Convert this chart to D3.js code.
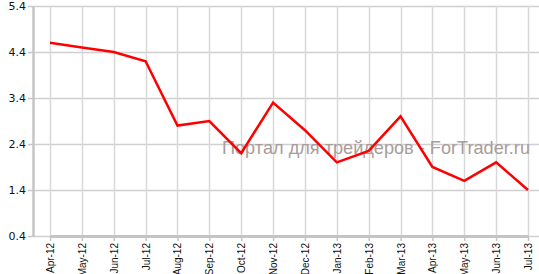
<!DOCTYPE html>
<html>
<head>
<meta charset="utf-8">
<script src="https://cdn.jsdelivr.net/npm/d3@7"></script>
<style>
  body { margin: 0; background: #fff; }
</style>
</head>
<body>
<div id="chart"></div>
<script>
// data
var months = ["Apr-12", "May-12", "Jun-12", "Jul-12", "Aug-12", "Sep-12", "Oct-12", "Nov-12",
              "Dec-12", "Jan-13", "Feb-13", "Mar-13", "Apr-13", "May-13", "Jun-13", "Jul-13"];
var values = [4.6, 4.5, 4.4, 4.2, 2.8, 2.9, 2.2, 3.3,
              2.7, 2.0, 2.25, 3.0, 1.9, 1.6, 2.0, 1.4];
var yTicks = [0.4, 1.4, 2.4, 3.4, 4.4, 5.4];
var watermark = "Портал для трейдеров - ForTrader.ru";

var margin = {top: 6, right: 0, bottom: 38, left: 33},
    width = 539 - margin.left - margin.right,
    height = 274 - margin.top - margin.bottom;

var svg = d3.select("#chart")
    .append("svg")
    .attr("width", width + margin.left + margin.right)
    .attr("height", height + margin.top + margin.bottom)
    .append("g")
    .attr("transform", "translate(" + margin.left + "," + margin.top + ")");

var x = d3.scalePoint()
    .domain(months)
    .range([17, 495]);

var y = d3.scaleLinear()
    .domain([0.4, 5.4])
    .range([height, 0]);

// horizontal grid
svg.append("g")
    .selectAll("line")
    .data(yTicks)
    .enter()
    .append("line")
    .attr("x1", 0)
    .attr("x2", width)
    .attr("y1", function(d) { return Math.round(y(d)) + 0.5 })
    .attr("y2", function(d) { return Math.round(y(d)) + 0.5 })
    .attr("stroke", "#d0d0d0")
    .attr("stroke-width", 1.5);

// vertical grid
svg.append("g")
    .selectAll("line")
    .data(months)
    .enter()
    .append("line")
    .attr("x1", function(d) { return Math.round(x(d)) + 0.5 })
    .attr("x2", function(d) { return Math.round(x(d)) + 0.5 })
    .attr("y1", 0)
    .attr("y2", height)
    .attr("stroke", "#d8d8d8")
    .attr("stroke-width", 1.5);

// Y axis
var yAxis = svg.append("g")
    .call(d3.axisLeft(y).tickValues(yTicks).tickFormat(d3.format(".1f")).tickSize(5).tickSizeOuter(0));
yAxis.select(".domain").attr("stroke", "#c4c4c4").attr("stroke-width", 2.5);
yAxis.selectAll(".tick line").attr("stroke", "#c4c4c4").attr("stroke-width", 1.5);
yAxis.selectAll("text")
    .attr("x", -7)
    .attr("fill", "#111")
    .style("font-family", "DejaVu Sans, Verdana, sans-serif")
    .style("font-size", "11px");

// X axis
var xAxis = svg.append("g")
    .attr("transform", "translate(0," + height + ")")
    .call(d3.axisBottom(x).tickSize(5).tickSizeOuter(0));
xAxis.select(".domain").attr("stroke", "#c4c4c4").attr("stroke-width", 3);
xAxis.selectAll(".tick line").attr("stroke", "#c4c4c4").attr("stroke-width", 1.5);
xAxis.selectAll("text")
    .attr("transform", "rotate(-90)")
    .attr("x", -7)
    .attr("y", 0)
    .attr("dy", "0.35em")
    .style("text-anchor", "end")
    .attr("fill", "#111")
    .style("font-family", "Liberation Sans, Arial, sans-serif")
    .style("font-size", "10px");

// watermark
svg.append("text")
    .attr("x", 222 - margin.left)
    .attr("y", 154 - margin.top)
    .attr("textLength", 308)
    .attr("lengthAdjust", "spacingAndGlyphs")
    .attr("fill", "#a89c9c")
    .style("font-family", "Liberation Sans, Arial, sans-serif")
    .style("font-size", "19px")
    .text(watermark);

// the line
svg.append("path")
    .datum(values)
    .attr("fill", "none")
    .attr("stroke", "#ff0000")
    .attr("stroke-width", 2.5)
    .attr("stroke-linejoin", "miter")
    .attr("d", d3.line()
        .x(function(d, i) { return x(months[i]) })
        .y(function(d) { return y(d) })
    );
</script>
</body>
</html>
